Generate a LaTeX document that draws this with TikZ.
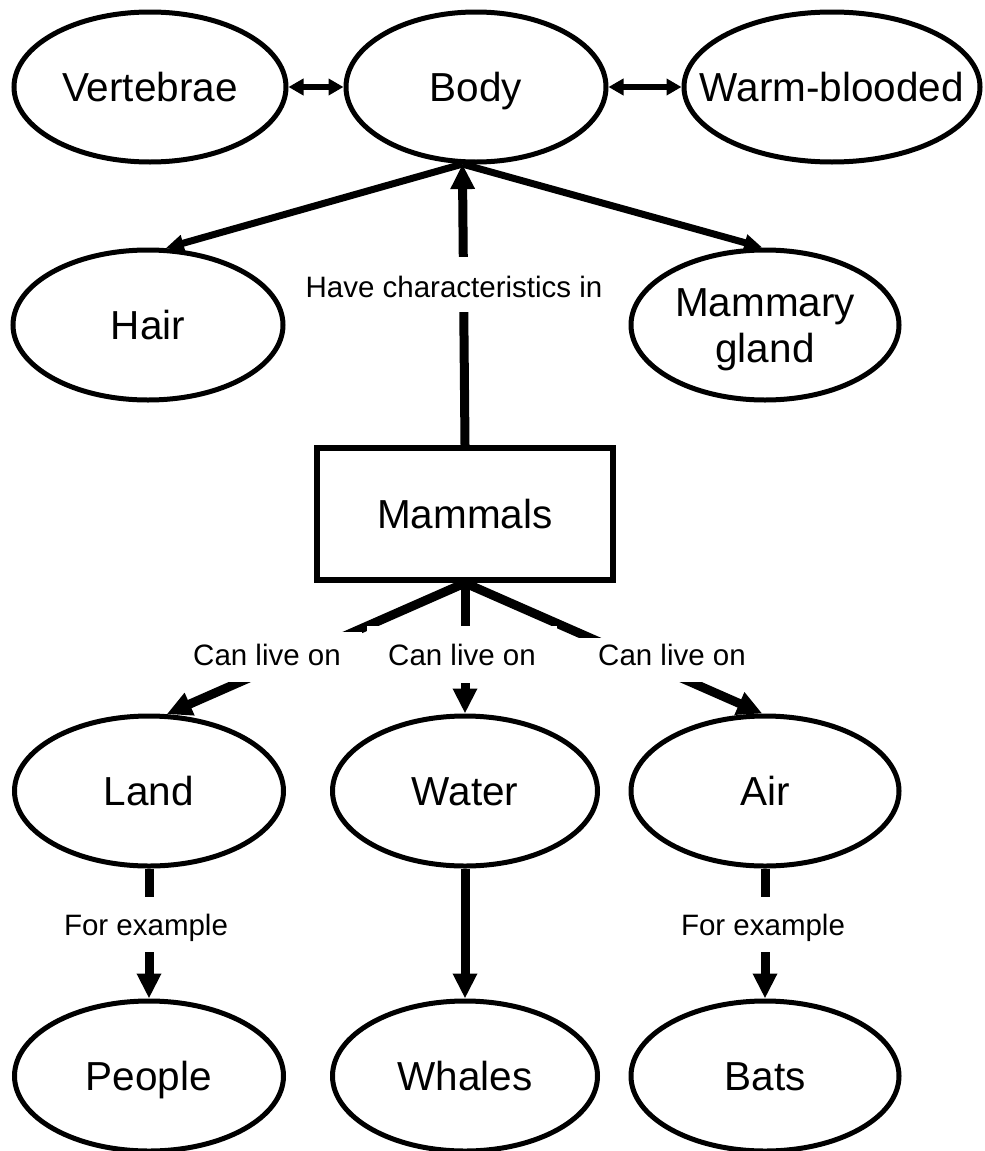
\documentclass[tikz,border=0pt]{standalone}
\usepackage{fontspec}
\setmainfont{Liberation Sans}
\usetikzlibrary{shapes.geometric,arrows.meta}
\begin{document}
\begin{tikzpicture}[x=1pt,y=-1pt,
  oval/.style={ellipse,draw,line width=5pt,minimum height=150pt,inner sep=0pt,
    font=\fontsize{40.5}{46}\selectfont,align=center,text height=29.5pt,text depth=0pt},
  boxnode/.style={rectangle,draw,line width=6pt,minimum width=296pt,minimum height=132pt,
    inner sep=0pt,font=\fontsize{40.5}{46}\selectfont,text height=29.5pt,text depth=0pt},
  lbl/.style={fill=white,inner sep=0pt,font=\fontsize{29.5}{34}\selectfont},
  conn/.style={line width=9pt,-{Triangle[length=25pt,width=23pt]}},
  sideconn/.style={line width=7pt,-{Triangle[length=18pt,width=16pt]}},
  dbl/.style={line width=6pt,{Triangle[length=15pt,width=16pt]}-{Triangle[length=15pt,width=16pt]}}
]
\useasboundingbox (0,0) rectangle (985,1151);
% nodes
\node[oval,minimum width=272pt] (vert) at (150,87) {\makebox[0pt]{Vertebrae}};
\node[oval,minimum width=260pt] (body) at (476,87) {\makebox[0pt]{Body}};
\node[oval,minimum width=296pt] (warm) at (832,87) {\makebox[0pt]{Warm-blooded}};
\node[oval,minimum width=270pt] (hair) at (148,325) {\makebox[0pt]{Hair}};
\node[oval,minimum width=268pt,text height=75.5pt,text depth=0pt] (mammary) at (765,325) {\makebox[0pt]{Mammary}\\\makebox[0pt]{gland}};
\node[boxnode] (mammals) at (465,514) {Mammals};
\node[oval,minimum width=269pt] (land) at (149,791) {\makebox[0pt]{Land}};
\node[oval,minimum width=265pt] (water) at (465,791) {\makebox[0pt]{Water}};
\node[oval,minimum width=268pt] (air) at (765,791) {\makebox[0pt]{Air}};
\node[oval,minimum width=269pt] (people) at (149,1076) {\makebox[0pt]{People}};
\node[oval,minimum width=265pt] (whales) at (465,1076) {\makebox[0pt]{Whales}};
\node[oval,minimum width=268pt] (bats) at (765,1076) {\makebox[0pt]{Bats}};
% connectors
\draw[dbl] (vert) -- (body);
\draw[dbl] (body) -- (warm);
\draw[sideconn] (body.260) -- (hair.77);
\draw[sideconn] (body.260) -- (mammary.92);
\draw[conn] (mammals.north) -- (body.260);
\draw[conn] (mammals.south) -- (land.77);
\draw[conn] (mammals.south) -- (water.north);
\draw[conn] (mammals.south) -- (air.92);
\draw[conn] (land) -- (people);
\draw[conn] (water) -- (whales);
\draw[conn] (air) -- (bats);
% labels
\node[lbl,minimum height=55pt,text height=25pt,text depth=0pt] (lhave) at (454,284.5) {Have characteristics in};
\node[lbl,minimum width=190pt,minimum height=50pt,text height=21pt,text depth=5pt] (lland) at (267,657) {Can live on};
\node[lbl,minimum width=190pt,minimum height=57pt,text height=22pt,text depth=0pt] (lwater) at (462,654) {Can live on};
\node[lbl,minimum width=200pt,minimum height=44pt,text height=20pt,text depth=10pt] (lair) at (672,660) {Can live on};
\node[lbl,minimum height=55pt,text height=21pt,text depth=0pt] (lpeople) at (146,924.5) {For example};
\node[lbl,minimum height=55pt,text height=21pt,text depth=0pt] (lbats) at (763,924.5) {For example};
\end{tikzpicture}
\end{document}
